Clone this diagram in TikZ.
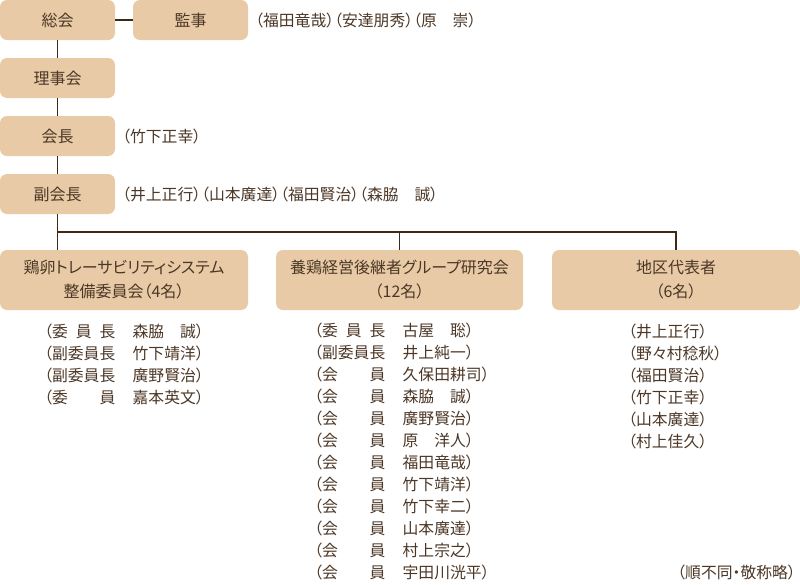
\documentclass[tikz,border=0pt]{standalone}
\usepackage{fontspec}
\setmainfont{Noto Sans CJK JP}[RawFeature={+palt}]
\definecolor{BoxColor}{RGB}{232,203,166}
\definecolor{LineColor}{RGB}{62,40,22}
\definecolor{TextColor}{RGB}{76,55,38}
\usepackage{tikz}
\usetikzlibrary{positioning, calc}
\tikzstyle{box} = [rectangle, rounded corners=7pt, fill=BoxColor, text=TextColor, minimum width=115pt, minimum height=40pt, inner sep=0pt, font=\fontsize{16}{24}\selectfont, align=center]
\tikzstyle{widebox} = [box, minimum width=248pt, minimum height=60pt]
\tikzstyle{line} = [LineColor, line width=1.6pt]
\tikzstyle{names} = [text=TextColor, inner sep=0pt, font=\fontsize{15.8}{22}\selectfont, align=left]
\newcommand{\yaku}[1]{\makebox[4em][s]{#1}\hspace{1.1em}}

\begin{document}
\begin{tikzpicture}[x=1pt, y=-1pt]
    \useasboundingbox (0,0) rectangle (800,584);
    % top column
    \node[box] (soukai) at (57.5,20) {総会};
    \node[box] (kanji) at (190.5,20) {監事};
    \node[box] (rijikai) at (57.5,78) {理事会};
    \node[box] (kaicho) at (57.5,136) {会長};
    \node[box] (fukukaicho) at (57.5,194) {副会長};

    % committees
    \node[widebox] (keiran) at (124,280) {鶏卵トレーサビリティシステム\\整備委員会（4名）};
    \node[widebox, minimum width=247pt] (yokei) at (399.5,280) {養鶏経営後継者グループ研究会\\（12名）};
    \node[widebox] (chiku) at (676,280) {地区代表者\\（6名）};

    % connectors
    \coordinate (branch) at (57.5,232);
    \draw[line] (soukai) -- (kanji);
    \draw[line] (soukai) -- (rijikai);
    \draw[line] (rijikai) -- (kaicho);
    \draw[line] (kaicho) -- (fukukaicho);
    \draw[line] (fukukaicho.south) -- (keiran.north -| fukukaicho.south);
    \draw[line] (branch) -| (chiku.north);
    \draw[line] (yokei.north) -- (yokei.north |- branch);

    % side names
    \node[names, anchor=west] (kanjinames) at (255,20) {（福田竜哉）（安達朋秀）（原　崇）};
    \node[names, anchor=west] (kaichoname) at (122,136) {（竹下正幸）};
    \node[names, anchor=west] (fukunames) at (122,194) {（井上正行）（山本廣達）（福田賢治）（森脇　誠）};

    % member lists (base = last line)
    \node[names, anchor=base west] (keiranlist) at (44,403) {%
        （\yaku{委\hfill 員\hfill 長}森脇　誠）\\
        （\yaku{副委員長}竹下靖洋）\\
        （\yaku{副委員長}廣野賢治）\\
        （\yaku{委\hfill 員}嘉本英文）};
    \node[names, anchor=base west] (yokeilist) at (314,578) {%
        （\yaku{委\hfill 員\hfill 長}古屋　聡）\\
        （\yaku{副委員長}井上純一）\\
        （\yaku{会\hfill 員}久保田耕司）\\
        （\yaku{会\hfill 員}森脇　誠）\\
        （\yaku{会\hfill 員}廣野賢治）\\
        （\yaku{会\hfill 員}原　洋人）\\
        （\yaku{会\hfill 員}福田竜哉）\\
        （\yaku{会\hfill 員}竹下靖洋）\\
        （\yaku{会\hfill 員}竹下幸二）\\
        （\yaku{会\hfill 員}山本廣達）\\
        （\yaku{会\hfill 員}村上宗之）\\
        （\yaku{会\hfill 員}宇田川洸平）};
    \node[names, anchor=base west] (chikulist) at (628,447) {%
        （井上正行）\\
        （野々村稔秋）\\
        （福田賢治）\\
        （竹下正幸）\\
        （山本廣達）\\
        （村上佳久）};

    % note
    \node[names, anchor=base east] (note) at (796,578) {（順不同・敬称略）};
\end{tikzpicture}
\end{document}
